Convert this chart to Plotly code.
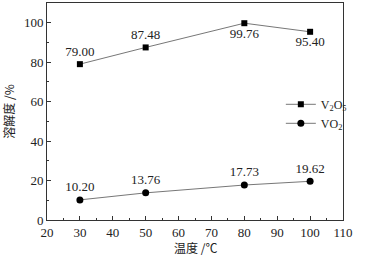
import plotly.graph_objects as go

temps = [30, 50, 80, 100]
v2o5 = [79.00, 87.48, 99.76, 95.40]
vo2 = [10.20, 13.76, 17.73, 19.62]
v2o5_labels = ["79.00", "87.48", "99.76", "95.40"]
vo2_labels = ["10.20", "13.76", "17.73", "19.62"]
x_ticks = [20, 30, 40, 50, 60, 70, 80, 90, 100, 110]
y_ticks = [0, 20, 40, 60, 80, 100]

SERIF = "Liberation Serif, Times New Roman, serif"
CJK = "Noto Sans CJK SC"

fig = go.Figure()
fig.add_trace(go.Scatter(
    x=temps, y=v2o5, mode="lines+markers+text", name="V<sub>2</sub>O<sub>5</sub>",
    text=v2o5_labels, textposition=["top center", "top center", "bottom center", "bottom center"],
    textfont=dict(family=SERIF, size=13, color="#222"),
    line=dict(color="#777", width=1), marker=dict(symbol="square", size=6, color="black"),
    cliponaxis=False,
))
fig.add_trace(go.Scatter(
    x=temps, y=vo2, mode="lines+markers+text", name="VO<sub>2</sub>",
    text=vo2_labels, textposition="top center",
    textfont=dict(family=SERIF, size=13, color="#222"),
    line=dict(color="#777", width=1), marker=dict(symbol="circle", size=7, color="black"),
    cliponaxis=False,
))

axis_common = dict(
    showgrid=False, zeroline=False, showline=True, linecolor="#333", linewidth=1,
    mirror=True, ticks="inside", ticklen=4, tickcolor="#333", automargin=False,
    tickfont=dict(family=SERIF, size=13, color="#222"),
)
fig.update_xaxes(range=[20, 110], tickvals=x_ticks,
                 minor=dict(dtick=5, ticks="inside", ticklen=2, tickcolor="#333"),
                 **axis_common)
fig.update_yaxes(range=[0, 110], tickvals=y_ticks,
                 minor=dict(dtick=10, ticks="inside", ticklen=2, tickcolor="#333"),
                 title=dict(text="溶解度 /%", font=dict(family=CJK, size=12, color="#222"), standoff=6),
                 **axis_common)

fig.add_annotation(text="温度 /℃", xref="paper", yref="paper", x=0.5, y=-0.08,
                   xanchor="center", yanchor="top", showarrow=False,
                   font=dict(family=CJK, size=12, color="#222"))

fig.update_layout(
    width=390, height=263,
    margin=dict(l=47, r=47, t=3, b=43),
    paper_bgcolor="white", plot_bgcolor="white",
    legend=dict(x=0.79, y=0.6, xanchor="left", yanchor="top", bgcolor="rgba(0,0,0,0)",
                font=dict(family=SERIF, size=12, color="#222"),
                itemwidth=30, tracegroupgap=0),
    showlegend=True,
)

fig.write_html("out.html", config={"displayModeBar": False},
               post_script="document.body.style.margin='0';")
